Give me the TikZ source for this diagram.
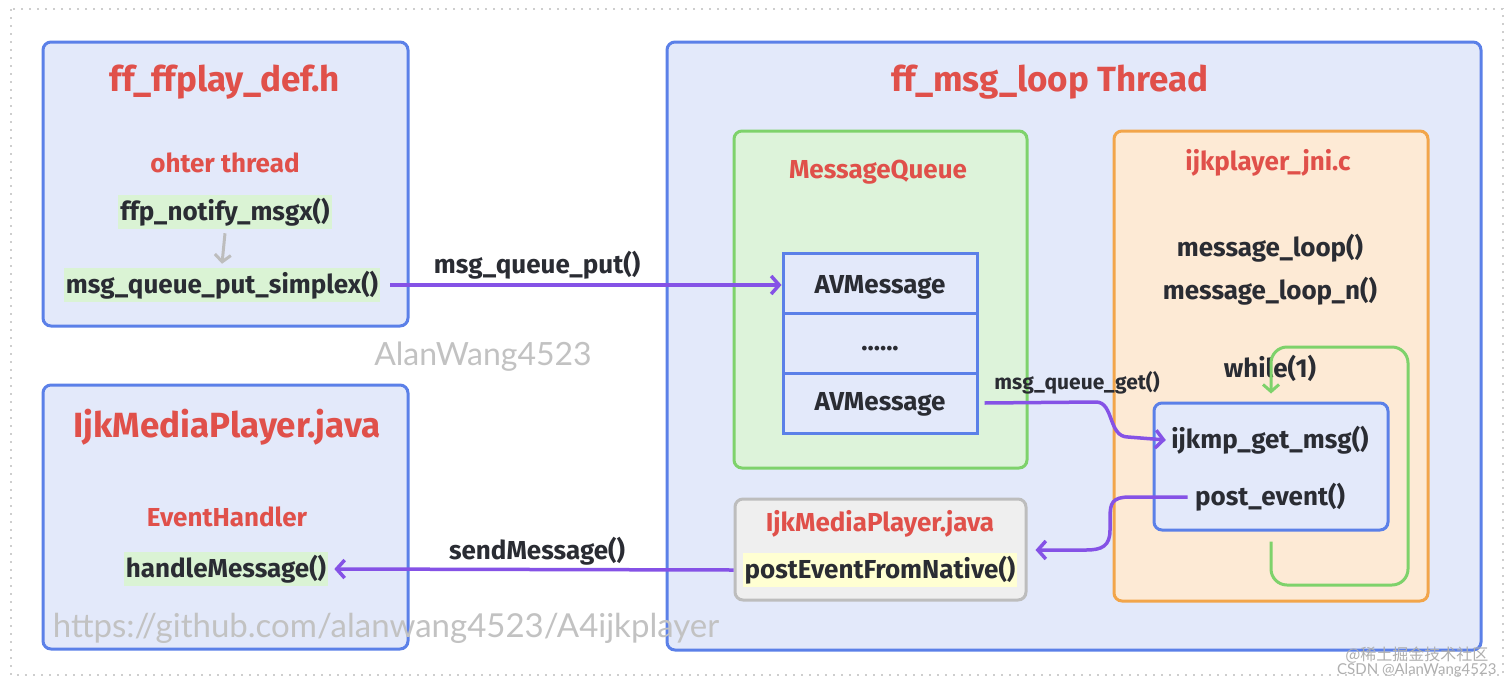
\documentclass[tikz,border=0pt]{standalone}
\usepackage{fontspec}
\setmainfont{Fira Sans}
\newfontfamily\wmfont{Lato}
\newfontfamily\cjkfont{Noto Sans CJK SC}
\usetikzlibrary{arrows.meta}
\definecolor{bblue}{HTML}{5B80E8}
\definecolor{bfill}{HTML}{E3E9FA}
\definecolor{tred}{HTML}{E0504A}
\definecolor{tdark}{HTML}{2A2C33}
\definecolor{ggreen}{HTML}{7ED26B}
\definecolor{gfill}{HTML}{DDF3DA}
\definecolor{oorange}{HTML}{F2A54A}
\definecolor{ofill}{HTML}{FDEAD5}
\definecolor{ppurple}{HTML}{8552E6}
\definecolor{hlgreen}{HTML}{DAF3D4}
\definecolor{hlyellow}{HTML}{FFFFD2}
\definecolor{gborder}{HTML}{BDBDBD}
\definecolor{gboxfill}{HTML}{EFEFEF}
\definecolor{wmgray}{HTML}{C2C2C2}
\begin{document}
\begin{tikzpicture}[x=1pt,y=-1pt,
  panel/.style={draw=bblue, fill=bfill, line width=3pt, rounded corners=8pt, inner sep=0pt},
  qbox/.style={draw=ggreen, fill=gfill, line width=3pt, rounded corners=8pt, inner sep=0pt},
  obox/.style={draw=oorange, fill=ofill, line width=3pt, rounded corners=8pt, inner sep=0pt},
  graybox/.style={draw=gborder, fill=gboxfill, line width=3pt, rounded corners=8pt, inner sep=0pt},
  cell/.style={draw=bblue, fill=bfill, line width=3pt, inner sep=0pt, minimum width=194pt, minimum height=60pt},
  bigtitle/.style={text=tred, font=\fontsize{35}{40}\selectfont\bfseries},
  subtitle/.style={text=tred, font=\fontsize{26}{30}\selectfont\bfseries},
  code/.style={text=tdark, font=\fontsize{26}{30}\selectfont\bfseries},
  smallcode/.style={text=tdark, font=\fontsize{21}{25}\selectfont\bfseries},
  hl/.style={fill=hlgreen, inner xsep=2pt, inner ysep=3pt},
  parrow/.style={draw=ppurple, line width=3.5pt, -{Straight Barb[length=8pt,width=18pt,line width=3.5pt]}},
  garrow/.style={draw=ggreen, line width=3pt, rounded corners=16pt, -{Straight Barb[length=7pt,width=16pt,line width=3pt]}},
  grayarrow/.style={draw=gborder, line width=3pt, -{Straight Barb[length=7pt,width=16pt,line width=3pt]}},
  wm/.style={text=wmgray, font=\fontsize{32}{38}\selectfont\wmfont}
]
\useasboundingbox (0,0) rectangle (1512,686);
\fill[white] (0,0) rectangle (1512,686);
\draw[wmgray!80, line width=1.6pt, dash pattern=on 2pt off 6pt] (11,9) rectangle (1503,675);

% left panels
\node[panel, minimum width=365pt, minimum height=284pt] (ffdef) at (225.5,184) {};
\node[panel, minimum width=365pt, minimum height=264pt] (javapanel) at (225.5,517) {};
% right big panel
\node[panel, minimum width=814pt, minimum height=608pt] (loop) at (1074,346) {};

% top-left content
\node[bigtitle] (ffdeft) at (225,82) {ff\_ffplay\_def.h};
\node[subtitle] (other) at (225,163) {ohter thread};
\node[code, hl] (notify) at (225,212) {ffp\_notify\_msgx()};
\node[code, hl] (simplex) at (222,285) {msg\_queue\_put\_simplex()};
\draw[grayarrow] ([yshift=-4pt]notify.south) -- ([yshift=4pt]simplex.north);

% bottom-left content
\node[bigtitle] (javat) at (227,427) {IjkMediaPlayer.java};
\node[subtitle] (evh) at (227,517) {EventHandler};
\node[code, hl] (handle) at (226,569) {handleMessage()};

% right panel content
\node[bigtitle] (loopt) at (1050,82) {ff\_msg\_loop Thread};

\node[qbox, minimum width=293pt, minimum height=337pt] (mq) at (880.5,299.5) {};
\node[subtitle] (mqt) at (878,172) {MessageQueue};
\node[cell] (avm1) at (880,283) {};
\node[cell] (avm2) at (880,343) {};
\node[cell] (avm3) at (880,403) {};
\node[code] at (880,287) {AVMessage};
\node[code] at (880,349) {......};
\node[code] at (880,404) {AVMessage};

\node[obox, minimum width=314pt, minimum height=470pt] (jni) at (1271,366) {};
\node[subtitle] (jnit) at (1268,163) {ijkplayer\_jni.c};
\node[code] (ml) at (1270,248) {message\_loop()};
\node[code] (mln) at (1270,291) {message\_loop\_n()};
\node[code] (while) at (1270,368) {while(1)};
\node[panel, minimum width=234pt, minimum height=127pt] (inner) at (1271,466.5) {};
\node[code] (getmsg) at (1270,440) {ijkmp\_get\_msg()};
\node[code] (postev) at (1270,497) {post\_event()};

\node[graybox, minimum width=291pt, minimum height=101pt] (pfnbox) at (880.5,549.5) {};
\node[subtitle] (pfnt) at (880,524) {IjkMediaPlayer.java};
\node[code, fill=hlyellow, inner xsep=2pt, inner ysep=3pt] (pfn) at (880,570) {postEventFromNative()};

% arrows
\draw[parrow] ([xshift=10pt]simplex.east) -- (simplex.east -| avm1.west) coordinate (putend);
\node[code, anchor=south] (putlbl) at (537,283) {msg\_queue\_put()};

\draw[parrow] ([xshift=6pt]avm3.east) -- (1096,402) .. controls (1114,402) and (1108,437) .. (1128,437) -- ([xshift=-2pt]getmsg.west);
\node[smallcode] (getlbl) at (1077,383) {msg\_queue\_get()};

\draw[parrow] ([xshift=-4pt]postev.west) -- (1130,497) .. controls (1112,497) and (1110,503) .. (1110,518) -- (1110,530) .. controls (1110,546) and (1102,550) .. (1086,550) -- ([xshift=8pt]pfnbox.east |- 0,550);

\draw[parrow] (pfnbox.west |- pfn) -- ([xshift=6pt]handle.east);
\node[code, anchor=south] (sendlbl) at (537,569) {sendMessage()};

\draw[garrow] ([yshift=-10pt]inner.south) -- (1271,585) -- (1408,585) -- (1408,347) -- (1271,347) -- ([yshift=8pt]inner.north);

% watermarks
\node[wm] (wm1) at (483,357) {AlanWang4523};
\node[wm, font=\fontsize{33}{38}\selectfont\wmfont] (wm2) at (386,628) {https://github.com/alanwang4523/A4ijkplayer};
\node[text=wmgray!90!black, font=\fontsize{16}{18}\selectfont\cjkfont, anchor=east] (wm3) at (1492,655) {@稀土掘金技术社区};
\node[text=wmgray!90!black, font=\fontsize{15}{17}\selectfont\wmfont, anchor=east] (wm4) at (1500,670) {CSDN @AlanWang4523};
\end{tikzpicture}
\end{document}
